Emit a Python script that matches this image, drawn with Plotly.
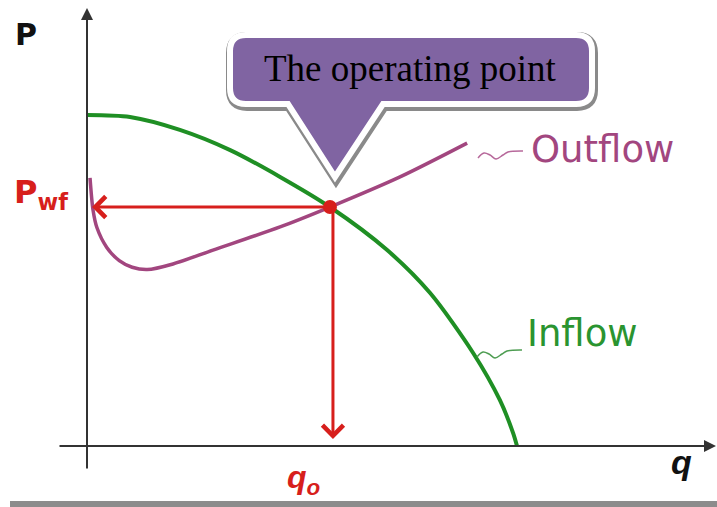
import plotly.graph_objects as go

# ---------------- data (arbitrary units) ----------------
inflow_q = [0, 10, 21.6, 33.3, 44.9, 56.5, 69.8, 79.8, 89.8, 96.0, 99.1, 100]
inflow_p = [100, 99.4, 95.5, 89.4, 81.3, 72.2, 59.2, 46.2, 28.1, 13.9, 3.9, 0]

outflow_q = [0.7, 1.4, 2.3, 4.6, 7.5, 10.5, 14, 20, 29.3, 44.9, 56.5, 72.8, 88.4]
outflow_p = [81, 71.3, 66, 60, 56, 54, 53.3, 55, 59.2, 66.2, 72.2, 81.3, 91.5]

op_q = [56.5]
op_p = [72.2]

labels = {"P": "P", "q": "q", "pwf": "P<sub>wf</sub>", "qo": "q<sub>o</sub>",
          "out": "Outflow", "in": "Inflow", "callout": "The operating point"}

# ---------------- layout / calibration ----------------
W, H = 717, 507
X0_PX, KX = 87, 4.3      # q=0 at pixel 87, 4.3 px per unit
Y0_PX, KY = 446, 3.31    # P=0 at pixel 446, 3.31 px per unit
X_RANGE = [-X0_PX / KX, (W - X0_PX) / KX]
Y_RANGE = [(Y0_PX - H) / KY, Y0_PX / KY]


def qx(px):
    return (px - X0_PX) / KX


def py(pyx):
    return (Y0_PX - pyx) / KY


GREEN = "#1f8f24"
PURPLE = "#a2467f"
RED = "#d71f1c"
AXIS = "#333333"

fig = go.Figure()

fig.add_trace(go.Scatter(x=inflow_q, y=inflow_p, mode="lines",
                         line=dict(color=GREEN, width=4, shape="spline", smoothing=0.8),
                         hoverinfo="skip"))
fig.add_trace(go.Scatter(x=outflow_q, y=outflow_p, mode="lines",
                         line=dict(color=PURPLE, width=3.5, shape="spline", smoothing=0.8),
                         hoverinfo="skip"))


# leader squiggles (pixel offsets relative to label positions)
def squiggle(x_start, y_start, color):
    offs = [(0, 0), (6, -5), (12, -3), (18, 1), (25, -3), (30, -6), (45, -7)]
    return go.Scatter(x=[qx(x_start + dx) for dx, dy in offs],
                      y=[py(y_start + dy) for dx, dy in offs],
                      mode="lines", line=dict(color=color, width=1.5, shape="spline"),
                      hoverinfo="skip")


fig.add_trace(squiggle(478, 158, "#b7699b"))
fig.add_trace(squiggle(477, 357, "#4e9d52"))

annotations = []
# axis arrows
annotations.append(dict(x=0, y=py(8), ax=0, ay=py(470), xref="x", yref="y", axref="x", ayref="y",
                        showarrow=True, arrowhead=2, arrowsize=1.2, arrowwidth=2,
                        arrowcolor=AXIS, text=""))
annotations.append(dict(x=qx(716), y=0, ax=qx(58), ay=0, xref="x", yref="y", axref="x", ayref="y",
                        showarrow=True, arrowhead=2, arrowsize=1.2, arrowwidth=2,
                        arrowcolor=AXIS, text=""))
# red arrows from the operating point
annotations.append(dict(x=qx(92), y=op_p[0], ax=op_q[0], ay=op_p[0], xref="x", yref="y",
                        axref="x", ayref="y", showarrow=True, arrowhead=4, arrowsize=1.35,
                        arrowwidth=3, arrowcolor=RED, text=""))
annotations.append(dict(x=op_q[0] + 0.7, y=py(439), ax=op_q[0] + 0.7, ay=op_p[0], xref="x",
                        yref="y", axref="x", ayref="y", showarrow=True, arrowhead=4,
                        arrowsize=1.35, arrowwidth=3, arrowcolor=RED, text=""))

# text labels
annotations += [
    dict(x=qx(13), y=py(34), text="<b>" + labels["P"] + "</b>", xanchor="left", yanchor="middle",
         font=dict(family="DejaVu Sans", size=30, color="#111111")),
    dict(x=qx(12), y=py(194), text="<b>" + labels["pwf"] + "</b>", xanchor="left", yanchor="middle",
         font=dict(family="DejaVu Sans", size=32, color=RED)),
    dict(x=qx(285), y=py(479), text="<b><i>" + labels["qo"] + "</i></b>", xanchor="left",
         yanchor="middle", font=dict(family="Liberation Sans", size=32, color=RED)),
    dict(x=qx(669), y=py(462), text="<b><i>" + labels["q"] + "</i></b>", xanchor="left",
         yanchor="middle", font=dict(family="Liberation Sans", size=34, color="#111111")),
    dict(x=qx(529), y=py(149), text=labels["out"], xanchor="left", yanchor="middle",
         font=dict(family="DejaVu Sans", size=37, color=PURPLE)),
    dict(x=qx(525), y=py(333), text=labels["in"], xanchor="left", yanchor="middle",
         font=dict(family="DejaVu Sans", size=37, color="#2a9430")),
    dict(x=qx(410), y=py(68), text=labels["callout"], xanchor="center", yanchor="middle",
         font=dict(family="Liberation Serif", size=37, color="#000000")),
]
for a in annotations:
    a.setdefault("showarrow", False)
    a.setdefault("xref", "x")
    a.setdefault("yref", "y")

# red dot at operating point
fig.add_trace(go.Scatter(x=op_q, y=op_p, mode="markers",
                         marker=dict(color=RED, size=14, symbol="circle"), hoverinfo="skip"))


# callout shape (pixel geometry converted to data coordinates)
def callout_path(dx=0, dy=0):
    L, R, T, B, r = 230 + dx, 592 + dx, 35 + dy, 104 + dy, 16
    bl, br, tipx, tipy = 288 + dx, 383 + dx, 335 + dx, 177 + dy

    def p(x, y):
        return f"{qx(x):.3f},{py(y):.3f}"
    return (f"M{p(L + r, T)} L{p(R - r, T)} Q{p(R, T)} {p(R, T + r)} L{p(R, B - r)} "
            f"Q{p(R, B)} {p(R - r, B)} L{p(br, B)} L{p(tipx, tipy)} L{p(bl, B)} "
            f"L{p(L + r, B)} Q{p(L, B)} {p(L, B - r)} L{p(L, T + r)} Q{p(L, T)} {p(L + r, T)} Z")


shapes = [
    dict(type="path", path=callout_path(1, 2), xref="x", yref="y", layer="above",
         fillcolor="#8a8a8a", line=dict(color="#8a8a8a", width=10)),
    dict(type="path", path=callout_path(), xref="x", yref="y", layer="above",
         fillcolor="#8064a2", line=dict(color="#ffffff", width=6)),
    dict(type="rect", xref="paper", yref="paper", x0=10 / W, x1=1, y0=0, y1=6 / H,
         fillcolor="#8c8c8c", line=dict(width=0)),
]

fig.update_layout(
    width=W, height=H, margin=dict(l=0, r=0, t=0, b=0),
    paper_bgcolor="white", plot_bgcolor="white", showlegend=False,
    xaxis=dict(range=X_RANGE, visible=False, fixedrange=True),
    yaxis=dict(range=Y_RANGE, visible=False, fixedrange=True),
    annotations=annotations, shapes=shapes,
)

fig.write_html("out.html", config={"displayModeBar": False},
               post_script="document.body.style.margin='0';document.body.style.overflow='hidden';")
